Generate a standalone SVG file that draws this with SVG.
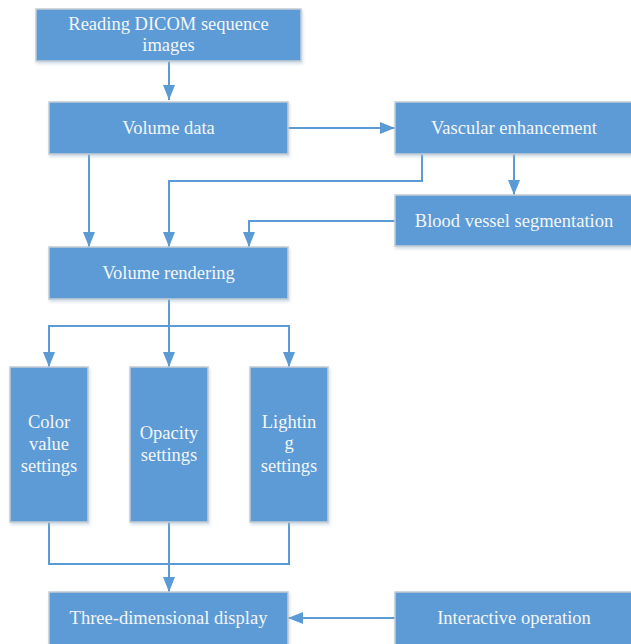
<svg xmlns="http://www.w3.org/2000/svg" width="631" height="644" viewBox="0 0 631 644">
<style>
.box{fill:#5b9bd5;stroke:#c5ccd3;stroke-width:1.5;filter:url(#sh)}
.t{font-family:"Liberation Serif","Times New Roman",serif;font-size:18.5px;fill:#f4f6f8;text-anchor:middle}
.c{fill:none;stroke:#5b9bd5;stroke-width:2}
</style>
<defs>
<filter id="sh" x="-10%" y="-10%" width="130%" height="140%">
<feDropShadow dx="1" dy="2" stdDeviation="1.5" flood-color="#9fb8cf" flood-opacity="0.5"/>
</filter>
<marker id="ah" viewBox="0 0 15 12" refX="15" refY="6" markerWidth="15" markerHeight="12" markerUnits="userSpaceOnUse" orient="auto">
<path d="M0,0 L15,6 L0,12 z" fill="#5b9bd5"/>
</marker>
</defs>
<rect width="631" height="644" fill="#ffffff"/>
<g id="connectors">
<path class="c" d="M169,61 V100" marker-end="url(#ah)"/>
<path class="c" d="M288,128 H395" marker-end="url(#ah)"/>
<path class="c" d="M89,154 V247" marker-end="url(#ah)"/>
<path class="c" d="M422,154 V181 H169 V247" marker-end="url(#ah)"/>
<path class="c" d="M514,154 V195" marker-end="url(#ah)"/>
<path class="c" d="M395,221 H249 V247" marker-end="url(#ah)"/>
<path class="c" d="M169,299 V367" marker-end="url(#ah)"/>
<path class="c" d="M49,326 H289"/>
<path class="c" d="M49,325 V367" marker-end="url(#ah)"/>
<path class="c" d="M289,325 V367" marker-end="url(#ah)"/>
<path class="c" d="M49,522 V564 H289 V522"/>
<path class="c" d="M169,522 V592" marker-end="url(#ah)"/>
<path class="c" d="M395,618 H288" marker-end="url(#ah)"/>
</g>
<g id="reading"><rect class="box" x="36" y="9" width="265" height="52"/><text class="t" x="168.5" y="30">Reading DICOM sequence</text><text class="t" x="168.5" y="51">images</text></g>
<g id="volume-data"><rect class="box" x="49" y="102" width="239" height="52"/><text class="t" x="168.5" y="134">Volume data</text></g>
<g id="vascular"><rect class="box" x="395" y="102" width="240" height="52"/><text class="t" x="514" y="134">Vascular enhancement</text></g>
<g id="blood"><rect class="box" x="395" y="195" width="240" height="51"/><text class="t" x="514" y="227">Blood vessel segmentation</text></g>
<g id="volume-rendering"><rect class="box" x="49" y="247" width="239" height="52"/><text class="t" x="168.5" y="279">Volume rendering</text></g>
<g id="color"><rect class="box" x="10" y="367" width="78" height="155"/><text class="t" x="49" y="428">Color</text><text class="t" x="49" y="450">value</text><text class="t" x="49" y="472">settings</text></g>
<g id="opacity"><rect class="box" x="130" y="367" width="78" height="155"/><text class="t" x="169" y="439">Opacity</text><text class="t" x="169" y="461">settings</text></g>
<g id="lighting"><rect class="box" x="250" y="367" width="78" height="155"/><text class="t" x="289" y="428">Lightin</text><text class="t" x="289" y="449">g</text><text class="t" x="289" y="472">settings</text></g>
<g id="display"><rect class="box" x="49" y="592" width="239" height="54"/><text class="t" x="168.5" y="624">Three-dimensional display</text></g>
<g id="interactive"><rect class="box" x="395" y="592" width="240" height="54"/><text class="t" x="514" y="624">Interactive operation</text></g>
</svg>
